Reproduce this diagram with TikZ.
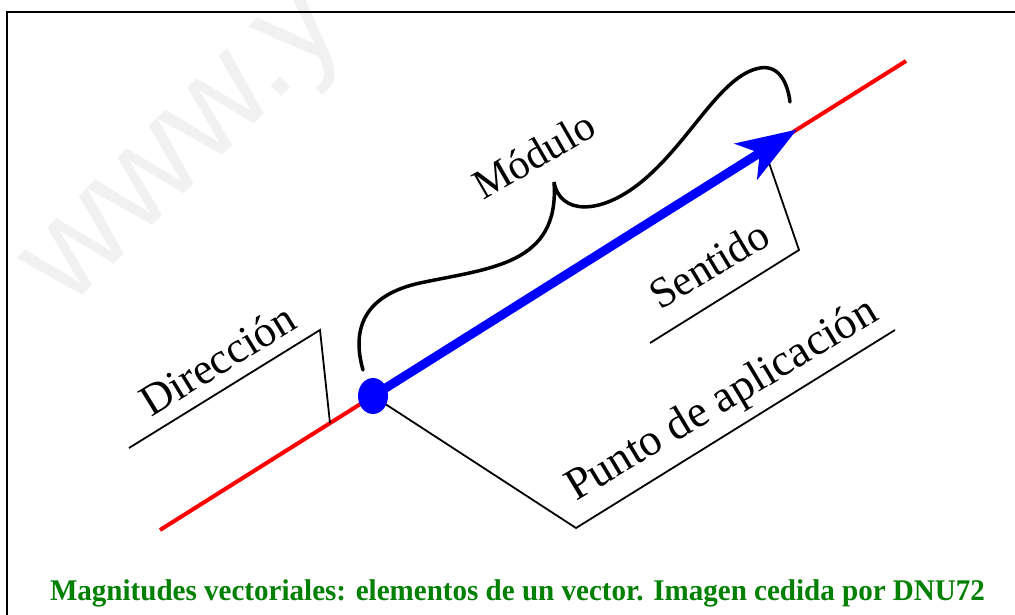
\documentclass[tikz,border=0pt]{standalone}
\usepackage{fontspec}
\setmainfont{Liberation Serif}
\newfontfamily\wmfont{Liberation Sans}
\usetikzlibrary{arrows.meta,shapes.geometric}
\definecolor{capgreen}{RGB}{0,128,0}
\definecolor{wmgray}{RGB}{241,241,241}
\begin{document}
\begin{tikzpicture}[x=1pt,y=-1pt,
  thinline/.style={line width=1.8pt, line join=miter},
  lbl/.style={inner sep=0pt, anchor=base west},
]
\useasboundingbox (0,0) rectangle (1015,615);
\fill[white] (0,0) rectangle (1015,615);
% watermark
\node[text=wmgray, font=\wmfont\fontsize{137}{137}\selectfont, rotate=45, anchor=base west, inner sep=0pt] (wm) at (68,310) {www.y};
% frame
\draw[line width=2pt] (1015,12) -- (7,12) -- (7,615);
% coordinates
\coordinate (A) at (160,530);
\coordinate (B) at (906,61);
\coordinate (P) at (373,396);
\coordinate (T) at (797,129.5);
\coordinate (d1) at (129,448);
\coordinate (d2) at (320,330);
\coordinate (d3) at (330,423.1);
\coordinate (s1) at (650,343);
\coordinate (s2) at (799,250);
\coordinate (s3) at (768,160);
\coordinate (p1) at (895,330);
\coordinate (p2) at (576,528);
% red line of action
\draw[red, line width=4pt] (A) -- (B);
% leader lines
\draw[thinline] (d1) -- (d2) -- (d3);
\draw[thinline] (s1) -- (s2) -- (s3);
\draw[thinline] (p1) -- (p2) -- (P);
% vector
\draw[blue, line width=9pt, -{Stealth[length=60pt,width=42pt,inset=16pt]}] (P) -- (T);
\node[ellipse, fill=blue, minimum width=30pt, minimum height=36pt, inner sep=0pt] (dot) at (P) {};
% brace
\draw[line width=3.5pt, line cap=round] (363,370) .. controls (351,328) and (365,295) .. (420,283)
  .. controls (490,268) and (560,265) .. (554,182)
  .. controls (560,215) and (600,215) .. (640,183)
  .. controls (690,143) and (720,75) .. (760,68)
  .. controls (780,64.5) and (788,85) .. (790,102);
% labels
\node[lbl, rotate=31.5, font=\fontsize{44}{48}\selectfont] (dir) at (151,418) {Dirección};
\node[lbl, rotate=30, font=\fontsize{42}{46}\selectfont] (mod) at (483,201) {Módulo};
\node[lbl, rotate=31, font=\fontsize{43}{47}\selectfont] (sen) at (660,311) {Sentido};
\node[lbl, rotate=31, font=\fontsize{45}{49}\selectfont] (pun) at (576,502) {Punto de aplicación};
% caption
\node[anchor=base, text=capgreen, inner sep=0pt] (cap) at (517.5,600) {\resizebox{935pt}{\height}{\bfseries\fontsize{30}{34}\selectfont Magnitudes vectoriales: elementos de un vector. Imagen cedida por DNU72}};
\end{tikzpicture}
\end{document}
